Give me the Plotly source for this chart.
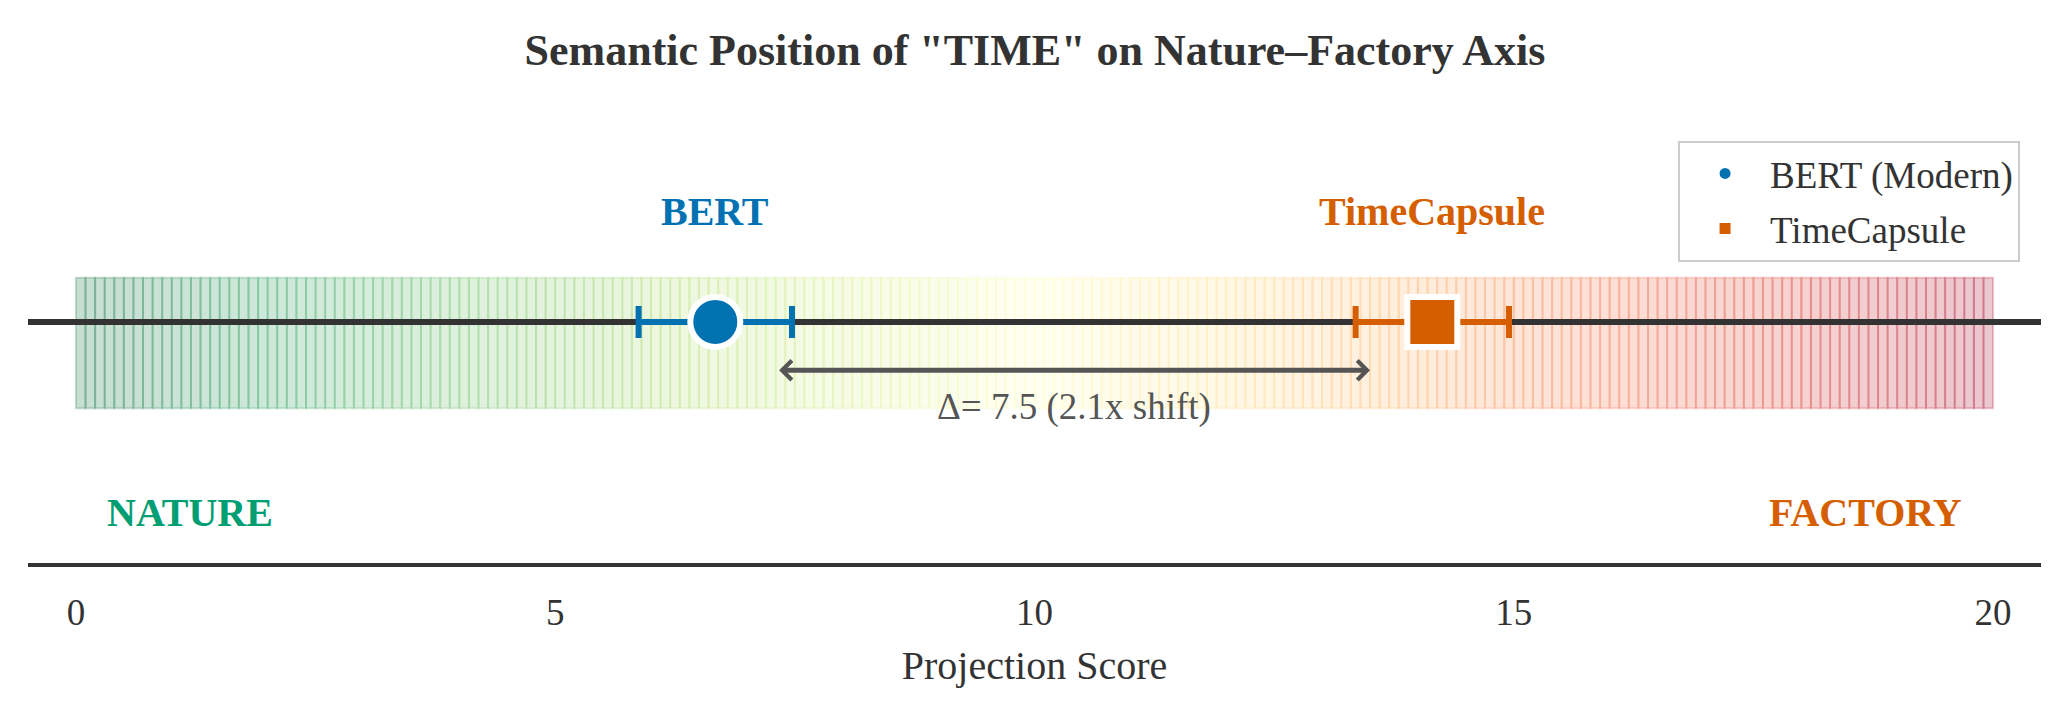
import numpy as np
import plotly.graph_objects as go
import plotly.colors as pc

# ---------------- data ----------------
models = ["BERT", "TimeCapsule"]
legend_names = ["BERT (Modern)", "TimeCapsule"]
scores = [6.67, 14.15]
errors = [0.80, 0.80]
model_colors = ["#0072B2", "#D55E00"]
model_symbols = ["circle", "square"]
pole_labels = ["NATURE", "FACTORY"]
pole_colors = ["#009E73", "#D55E00"]
tick_values = [0, 5, 10, 15, 20]
axis_min, axis_max = 0, 20

FONT = "Liberation Serif, Times New Roman, serif"

fig = go.Figure()

# ---------------- gradient band (RdYlGn reversed) ----------------
base = [c for c in pc.diverging.RdYlGn][::-1]
base_rgb = [pc.unlabel_rgb(c) if c.startswith("rgb") else pc.hex_to_rgb(c) for c in base]


def cmap(t):
    pos = t * (len(base_rgb) - 1)
    i = min(int(np.floor(pos)), len(base_rgb) - 2)
    f = pos - i
    a, b = base_rgb[i], base_rgb[i + 1]
    return tuple(int(round(a[k] + (b[k] - a[k]) * f)) for k in range(3))


n_strips = 200
edges = np.linspace(axis_min, axis_max, n_strips + 1)
shapes = []
for i in range(n_strips):
    r, g, b = cmap(i / (n_strips - 1))
    col = f"rgba({r},{g},{b},0.22)"
    shapes.append(dict(type="rect", xref="x", yref="y", x0=edges[i], x1=edges[i + 1],
                       y0=-0.43, y1=0.22, fillcolor=col,
                       line=dict(color=col, width=2), layer="below"))
# main axis line (drawn over the band)
shapes.append(dict(type="line", xref="x", yref="y", x0=-0.5, x1=20.5, y0=0, y1=0,
                   line=dict(color="#333333", width=6), layer="below"))

# ---------------- model points ----------------
for name, lname, s, e, c, sym in zip(models, legend_names, scores, errors, model_colors, model_symbols):
    fig.add_trace(go.Scatter(
        x=[s], y=[0], mode="markers", name=lname, legendgroup=name,
        marker=dict(color=c, size=50, symbol=sym, line=dict(color="white", width=6)),
        error_x=dict(type="data", array=[e], color=c, thickness=6, width=16),
        hoverinfo="x+name",
    ))

annotations = []
for name, s, c in zip(models, scores, model_colors):
    annotations.append(dict(x=s, y=0.55, xref="x", yref="y", text=f"<b>{name}</b>",
                            showarrow=False, font=dict(family=FONT, size=40, color=c),
                            xanchor="center", yanchor="middle"))

# delta arrow
delta = scores[1] - scores[0]
ratio = scores[1] / scores[0]
annotations.append(dict(x=scores[1] - 0.65, y=-0.24, ax=scores[0] + 0.65, ay=-0.24,
                        xref="x", yref="y", axref="x", ayref="y", text="",
                        showarrow=True, arrowside="end+start", arrowhead=4, startarrowhead=4,
                        arrowsize=0.75, startarrowsize=0.75, arrowwidth=5, arrowcolor="#555555",
                        standoff=0, startstandoff=0))
annotations.append(dict(x=(scores[0] + scores[1]) / 2, y=-0.425, xref="x", yref="y",
                        text=f"Δ= {delta:.1f} ({ratio:.1f}x shift)", showarrow=False,
                        font=dict(family=FONT, size=37, color="#555555"),
                        xanchor="center", yanchor="middle"))

# pole labels
annotations.append(dict(x=0.3, y=-0.95, xref="x", yref="y", text=f"<b>{pole_labels[0]}</b>",
                        showarrow=False, xanchor="left", yanchor="middle",
                        font=dict(family=FONT, size=40, color=pole_colors[0])))
annotations.append(dict(x=19.7, y=-0.95, xref="x", yref="y", text=f"<b>{pole_labels[1]}</b>",
                        showarrow=False, xanchor="right", yanchor="middle",
                        font=dict(family=FONT, size=40, color=pole_colors[1])))

fig.update_layout(
    width=2070, height=719,
    margin=dict(l=28, r=29, t=121, b=156),
    paper_bgcolor="white", plot_bgcolor="white",
    font=dict(family=FONT, color="#333333", size=37),
    title=dict(text='<b>Semantic Position of "TIME" on Nature–Factory Axis</b>',
               x=0.5, xanchor="center", y=1 - 50 / 719, yanchor="middle",
               font=dict(family=FONT, size=44, color="#333333")),
    shapes=shapes,
    annotations=annotations,
    showlegend=True,
    legend=dict(x=0.9896, xanchor="right", y=0.955, yanchor="top",
                bgcolor="white", bordercolor="#cccccc", borderwidth=2,
                font=dict(family=FONT, size=37, color="#333333"),
                itemwidth=80, tracegroupgap=4, itemsizing="trace"),
    xaxis=dict(range=[-0.5, 20.5], tickvals=tick_values, showgrid=False, zeroline=False,
               showline=True, linecolor="#333333", linewidth=4, ticks="",
               ticklabelstandoff=14,
               tickfont=dict(family=FONT, size=37, color="#333333"),
               title=dict(text="Projection Score", standoff=20,
                          font=dict(family=FONT, size=40, color="#333333"))),
    yaxis=dict(range=[-1.2, 1.0], visible=False, showgrid=False, zeroline=False),
)

fig.write_html("out.html")
